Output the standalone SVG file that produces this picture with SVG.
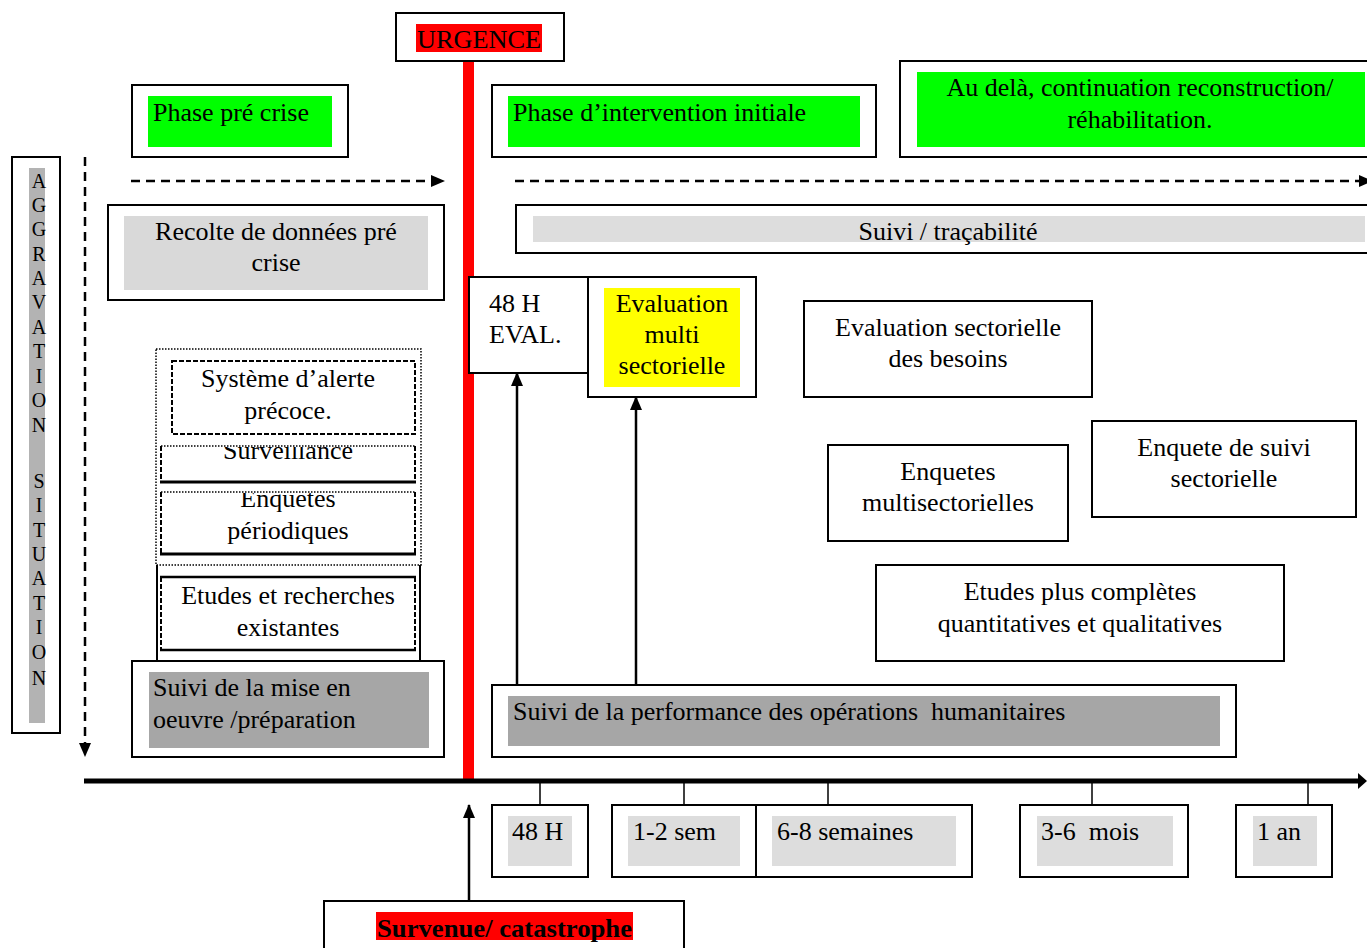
<svg xmlns="http://www.w3.org/2000/svg" width="1367" height="948" viewBox="0 0 1367 948">
<style>
text{font-family:"Liberation Serif","Times New Roman",serif;font-size:26px;fill:#000}
.c{text-anchor:middle}
.box{fill:#fff;stroke:#000;stroke-width:2}
.nb{fill:none;stroke:#000;stroke-width:2}
.green{fill:#00ff00}
.lg{fill:#dddddd}
.lg2{fill:#d9d9d9}
.dg{fill:#a6a6a6}
.red{fill:#ff0000}
.yel{fill:#ffff00}
.dotted{fill:none;stroke:#000;stroke-width:1.5;stroke-dasharray:1.5 1.5}
.dashed{fill:none;stroke:#000;stroke-width:2;stroke-dasharray:5 2}
.lett{font-size:20px;text-anchor:middle}
.flow{fill:none;stroke:#000;stroke-width:2.5;stroke-dasharray:9 6}
.line{fill:none;stroke:#000;stroke-width:2.5}
.tick{fill:none;stroke:#000;stroke-width:1.5}
</style>
<defs>
<marker id="ah" markerWidth="14" markerHeight="12" refX="13" refY="6" orient="auto" markerUnits="userSpaceOnUse">
<path d="M0,0 L14,6 L0,12 Z" fill="#000"/>
</marker>
<clipPath id="clipSurv"><rect x="161" y="447" width="254" height="36"/></clipPath>
<clipPath id="clipEnq"><rect x="161" y="493" width="254" height="62"/></clipPath>
</defs>

<!-- structural lines -->
<g id="timeline">
<rect x="463" y="61" width="11" height="719" fill="#ff0000"/>
<line x1="84" y1="781" x2="1360" y2="781" stroke="#000" stroke-width="5"/>
<path d="M1358,773 L1367,781 L1358,789 Z" fill="#000"/>
</g>

<g id="urgence">
<rect class="box" x="396" y="13" width="168" height="48"/>
<rect class="red" x="416" y="24" width="126" height="28"/>
<text x="417" y="48" textLength="124" lengthAdjust="spacingAndGlyphs">URGENCE</text>
</g>

<g id="phase-pre-crise">
<rect class="box" x="132" y="85" width="216" height="72"/>
<rect class="green" x="148" y="96" width="184" height="51"/>
<text x="153" y="121">Phase pré crise</text>
</g>

<g id="phase-intervention">
<rect class="box" x="492" y="85" width="384" height="72"/>
<rect class="green" x="508" y="96" width="352" height="51"/>
<text x="513" y="121">Phase d’intervention initiale</text>
</g>

<g id="au-dela">
<rect class="box" x="900" y="61" width="470" height="96"/>
<rect class="green" x="917" y="72" width="448" height="75"/>
<text class="c" x="1140" y="96">Au delà, continuation reconstruction/</text>
<text class="c" x="1140" y="128">réhabilitation.</text>
</g>

<g id="aggravation">
<rect class="box" x="12" y="157" width="48" height="576"/>
<rect x="29" y="168" width="16" height="555" fill="#b3b3b3"/>
<text class="lett" x="39" y="188">A</text>
<text class="lett" x="39" y="212">G</text>
<text class="lett" x="39" y="236">G</text>
<text class="lett" x="39" y="261">R</text>
<text class="lett" x="39" y="285">A</text>
<text class="lett" x="39" y="309">V</text>
<text class="lett" x="39" y="334">A</text>
<text class="lett" x="39" y="358">T</text>
<text class="lett" x="39" y="383">I</text>
<text class="lett" x="39" y="407">O</text>
<text class="lett" x="39" y="432">N</text>
<text class="lett" x="39" y="488">S</text>
<text class="lett" x="39" y="512">I</text>
<text class="lett" x="39" y="537">T</text>
<text class="lett" x="39" y="561">U</text>
<text class="lett" x="39" y="585">A</text>
<text class="lett" x="39" y="610">T</text>
<text class="lett" x="39" y="634">I</text>
<text class="lett" x="39" y="659">O</text>
<text class="lett" x="39" y="685">N</text>
</g>

<g id="recolte">
<rect class="box" x="108" y="205" width="336" height="95"/>
<rect class="lg2" x="124" y="216" width="304" height="74"/>
<text class="c" x="276" y="240">Recolte de données pré</text>
<text class="c" x="276" y="271">crise</text>
</g>

<g id="suivi-tracabilite">
<rect class="box" x="516" y="205" width="860" height="48"/>
<rect class="lg" x="533" y="216" width="832" height="26"/>
<text class="c" x="948" y="240">Suivi / traçabilité</text>
</g>

<g id="pre-crise-stack">
<rect class="dotted" x="156" y="349" width="265" height="216"/>
<line class="nb" x1="157" y1="565" x2="157" y2="661"/>
<line class="nb" x1="420" y1="565" x2="420" y2="661"/>
</g>

<g id="alerte">
<rect class="dashed" x="172" y="361" width="243" height="73"/>
<text class="c" x="288" y="387">Système d’alerte</text>
<text class="c" x="288" y="419">précoce.</text>
</g>

<g id="surveillance">
<text class="c" x="288" y="459" clip-path="url(#clipSurv)">Surveillance</text>
<line class="dotted" x1="161" y1="446" x2="415" y2="446"/>
<line class="dashed" x1="161" y1="446" x2="161" y2="482"/>
<line class="dashed" x1="415" y1="446" x2="415" y2="482"/>
<line x1="160" y1="482" x2="416" y2="482" stroke="#000" stroke-width="3"/>
</g>

<g id="enquetes-periodiques">
<text class="c" x="288" y="507" clip-path="url(#clipEnq)">Enquetes</text>
<text class="c" x="288" y="539">périodiques</text>
<line class="dotted" x1="161" y1="492" x2="415" y2="492"/>
<line class="dashed" x1="161" y1="492" x2="161" y2="554"/>
<line class="dashed" x1="415" y1="492" x2="415" y2="554"/>
<line x1="160" y1="554" x2="416" y2="554" stroke="#000" stroke-width="3"/>
</g>

<g id="etudes-recherches">
<line x1="160" y1="577" x2="416" y2="577" stroke="#000" stroke-width="2.5"/>
<line class="dashed" x1="161" y1="577" x2="161" y2="650"/>
<line class="dashed" x1="415" y1="577" x2="415" y2="650"/>
<line x1="160" y1="650" x2="416" y2="650" stroke="#000" stroke-width="2.5"/>
<text class="c" x="288" y="604">Etudes et recherches</text>
<text class="c" x="288" y="636">existantes</text>
</g>

<g id="suivi-mise-en-oeuvre">
<rect class="box" x="132" y="661" width="312" height="96"/>
<rect class="dg" x="149" y="672" width="280" height="76"/>
<text x="153" y="696">Suivi de la mise en</text>
<text x="153" y="728">oeuvre /préparation</text>
</g>

<g id="eval-48h">
<rect class="box" x="469" y="277" width="120" height="96"/>
<text x="489" y="312">48 H</text>
<text x="489" y="343">EVAL.</text>
</g>

<g id="eval-multi">
<rect class="box" x="588" y="277" width="168" height="120"/>
<rect class="yel" x="604" y="288" width="136" height="99"/>
<text class="c" x="672" y="312">Evaluation</text>
<text class="c" x="672" y="343">multi</text>
<text class="c" x="672" y="374">sectorielle</text>
</g>

<g id="eval-sectorielle">
<rect class="box" x="804" y="301" width="288" height="96"/>
<text class="c" x="948" y="336">Evaluation sectorielle</text>
<text class="c" x="948" y="367">des besoins</text>
</g>

<g id="enquetes-multi">
<rect class="box" x="828" y="445" width="240" height="96"/>
<text class="c" x="948" y="480">Enquetes</text>
<text class="c" x="948" y="511">multisectorielles</text>
</g>

<g id="enquete-suivi">
<rect class="box" x="1092" y="421" width="264" height="96"/>
<text class="c" x="1224" y="456">Enquete de suivi</text>
<text class="c" x="1224" y="487">sectorielle</text>
</g>

<g id="etudes-completes">
<rect class="box" x="876" y="565" width="408" height="96"/>
<text class="c" x="1080" y="600">Etudes plus complètes</text>
<text class="c" x="1080" y="632">quantitatives et qualitatives</text>
</g>

<g id="suivi-performance">
<rect class="box" x="492" y="685" width="744" height="72"/>
<rect class="dg" x="508" y="696" width="712" height="50"/>
<text x="513" y="720" xml:space="preserve">Suivi de la performance des opérations  humanitaires</text>
</g>

<g id="t-48h">
<rect class="box" x="492" y="805" width="96" height="72"/>
<rect class="lg" x="508" y="816" width="64" height="50"/>
<text x="512" y="840">48 H</text>
</g>
<g id="t-1-2sem">
<rect class="box" x="612" y="805" width="144" height="72"/>
<rect class="lg" x="628" y="816" width="112" height="50"/>
<text x="633" y="840">1-2 sem</text>
</g>
<g id="t-6-8sem">
<rect class="box" x="756" y="805" width="216" height="72"/>
<rect class="lg" x="772" y="816" width="184" height="50"/>
<text x="777" y="840">6-8 semaines</text>
</g>
<g id="t-3-6mois">
<rect class="box" x="1020" y="805" width="168" height="72"/>
<rect class="lg" x="1037" y="816" width="136" height="50"/>
<text x="1041" y="840" xml:space="preserve">3-6  mois</text>
</g>
<g id="t-1an">
<rect class="box" x="1236" y="805" width="96" height="72"/>
<rect class="lg" x="1253" y="816" width="64" height="50"/>
<text x="1257" y="840">1 an</text>
</g>

<g id="survenue">
<rect class="box" x="324" y="901" width="360" height="60"/>
<rect class="red" x="376" y="912" width="257" height="28"/>
<text x="377" y="937" font-weight="bold" textLength="255" lengthAdjust="spacingAndGlyphs">Survenue/ catastrophe</text>
</g>

<g id="connectors">
<line class="flow" x1="131" y1="181" x2="444" y2="181" marker-end="url(#ah)"/>
<line class="flow" x1="515" y1="181" x2="1372" y2="181" marker-end="url(#ah)"/>
<line class="flow" x1="85" y1="157" x2="85" y2="756" marker-end="url(#ah)"/>
<line class="line" x1="517" y1="685" x2="517" y2="373" marker-end="url(#ah)"/>
<line class="line" x1="636" y1="685" x2="636" y2="397" marker-end="url(#ah)"/>
<line class="line" x1="469" y1="901" x2="469" y2="805" marker-end="url(#ah)"/>
<line class="tick" x1="540" y1="781" x2="540" y2="805"/>
<line class="tick" x1="684" y1="781" x2="684" y2="805"/>
<line class="tick" x1="828" y1="781" x2="828" y2="805"/>
<line class="tick" x1="1092" y1="781" x2="1092" y2="805"/>
<line class="tick" x1="1308" y1="781" x2="1308" y2="805"/>
</g>
</svg>
